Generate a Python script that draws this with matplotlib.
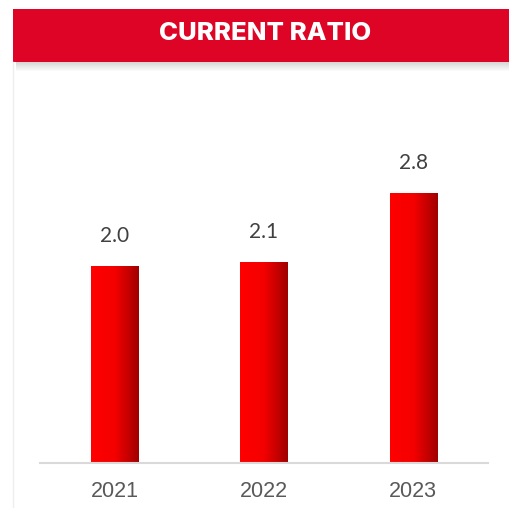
import numpy as np
import matplotlib.pyplot as plt
from matplotlib.patches import Rectangle
from matplotlib.colors import LinearSegmentedColormap

years = ['2021', '2022', '2023']
ratios = [2.04, 2.08, 2.80]

W, H = 510, 508
fig = plt.figure(figsize=(W / 100, H / 100), dpi=100)
fig.patch.set_facecolor('white')

def fx(px):
    return px / W

def fy(py):
    return 1 - py / H

# panel left border
fig.add_artist(plt.Line2D([fx(13.5), fx(13.5)], [fy(62), fy(508)], color='#eeeeee', lw=1))

# banner shadow
for i in range(9):
    fig.add_artist(Rectangle((fx(16), fy(62 + i + 1)), fx(W), 1 / H,
                             color='black', alpha=0.16 * (1 - i / 9), lw=0))
# banner
fig.add_artist(Rectangle((fx(13), fy(62)), fx(W), (62 - 9) / H, color='#dd0426', lw=0))
fig.text(fx(265), fy(33), 'CURRENT RATIO', color='white', fontsize=18.5,
         fontweight='heavy', family='Inter', ha='center', va='center')

# chart axes
ax = fig.add_axes([fx(40), fy(463), fx(448), (463 - 77) / H])
x = np.arange(len(years))
bars = ax.bar(x, ratios, width=0.315, color='none', zorder=2)

cmap = LinearSegmentedColormap.from_list('redgrad', ['#ff0000', '#f40000', '#a00000'])
grad = np.linspace(0, 1, 256).reshape(1, -1)
for b, v in zip(bars, ratios):
    x0 = b.get_x()
    im = ax.imshow(grad, cmap=cmap, aspect='auto', zorder=2,
                   extent=(x0, x0 + b.get_width(), 0, v))
    im.set_clip_path(b)
    ax.text(b.get_x() + b.get_width() / 2, v + 0.31, f'{v:.1f}', ha='center',
            va='center', fontsize=15, color='#404040', family='Lato')
ax.set_xlim(-0.5, 2.5)
ax.set_ylim(0, 4)

for s in ['top', 'right', 'left']:
    ax.spines[s].set_visible(False)
ax.spines['bottom'].set_color('#d9d9d9')
ax.spines['bottom'].set_linewidth(1.5)
ax.set_yticks([])
ax.set_xticks(x)
ax.set_xticklabels(years, fontsize=15.5, color='#595959', family='Liberation Sans')
ax.tick_params(axis='x', length=0, pad=13)
ax.set_facecolor('none')

fig.savefig('out.png', dpi=100)
